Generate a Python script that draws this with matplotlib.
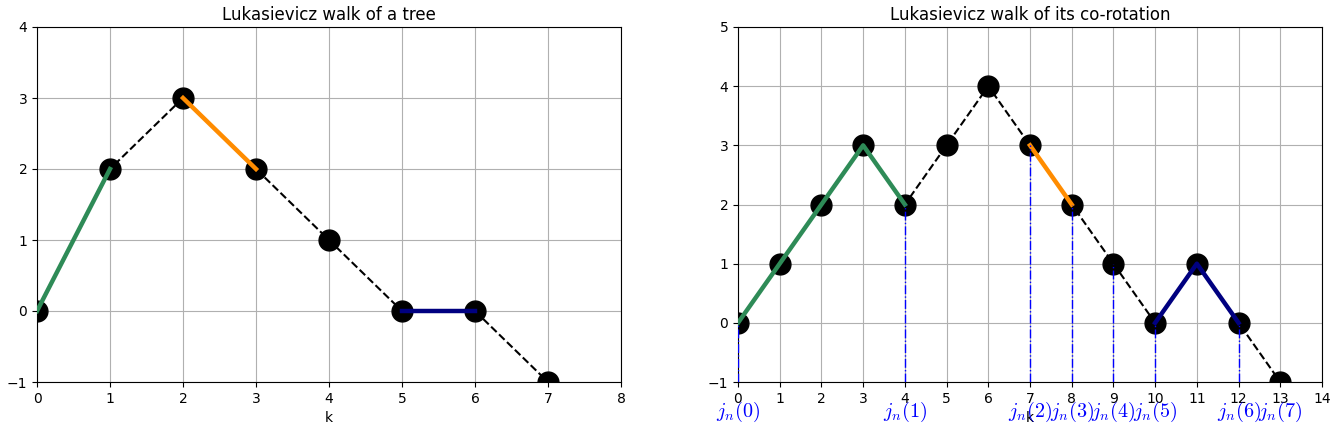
import matplotlib
matplotlib.use("Agg")
from matplotlib import pyplot as plt
import numpy as np

plt.rcParams["mathtext.fontset"] = "cm"

# walk of the tree
tree_k = [0, 1, 2, 3, 4, 5, 6, 7]
tree_walk = [0, 2, 3, 2, 1, 0, 0, -1]

# walk of the co-rotation
rot_k = [0, 1, 2, 3, 4, 5, 6, 7, 8, 9, 10, 11, 12, 13]
rot_walk = [0, 1, 2, 3, 2, 3, 4, 3, 2, 1, 0, 1, 0, -1]

# coloured pieces: (first index, last index, colour)
tree_pieces = [(0, 1, "seagreen"), (2, 3, "darkorange"), (5, 6, "navy")]
rot_pieces = [(0, 4, "seagreen"), (7, 8, "darkorange"), (10, 12, "navy")]

# times j_n(i)
jn_times = [0, 4, 7, 8, 9, 10, 12, 13]


def draw_walk(ax, k, walk, pieces):
    ax.plot(k, walk, "k--", marker="o", markersize=15, zorder=2)
    for a, b, c in pieces:
        ax.plot(k[a:b + 1], walk[a:b + 1], color=c, linewidth=3.2, zorder=3)
    ax.grid(True)
    ax.set_xlabel("k")


fig = plt.figure(figsize=(13.41, 4.32), dpi=100)
ax1 = fig.add_axes([37 / 1341, 50 / 432, 584 / 1341, 355 / 432])
ax2 = fig.add_axes([738 / 1341, 50 / 432, 584 / 1341, 355 / 432])

draw_walk(ax1, tree_k, tree_walk, tree_pieces)
ax1.set_xlim(0, 8)
ax1.set_ylim(-1, 4)
ax1.set_title("Lukasievicz walk of a tree", pad=5)

draw_walk(ax2, rot_k, rot_walk, rot_pieces)
ax2.set_xlim(0, 14)
ax2.set_xticks(range(15))
ax2.set_ylim(-1, 5)
ax2.set_title("Lukasievicz walk of its co-rotation", pad=5)

for i, t in enumerate(jn_times):
    ax2.plot([t, t], [-1, rot_walk[t]], color="blue", linestyle="-.", linewidth=1, zorder=4)
    ax2.text(t, -1.5, r"$j_n(%d)$" % i, color="blue", fontsize=14.5, ha="center", va="center")

fig.savefig("out.png", dpi=100)
